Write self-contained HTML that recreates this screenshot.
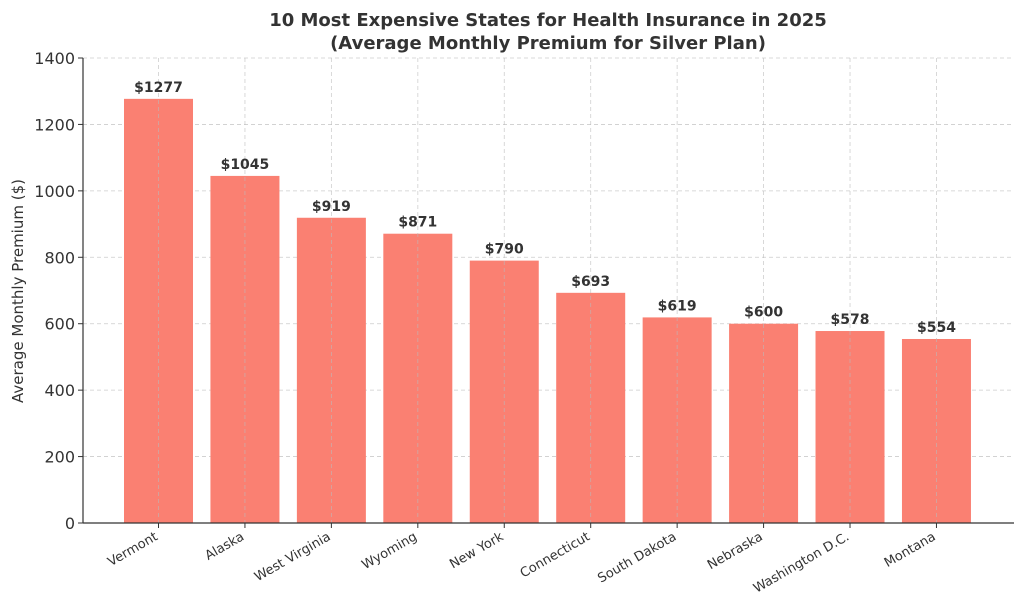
<!DOCTYPE html>
<html><head><meta charset="utf-8"><style>
body{margin:0;background:#fff;}
svg{display:block;font-family:"DejaVu Sans","Liberation Sans",sans-serif;}
</style></head><body>
<svg id="chart" width="1024" height="611">
<text x="548" y="26" text-anchor="middle" font-size="18" font-weight="bold" fill="#333">10 Most Expensive States for Health Insurance in 2025</text>
<text x="548" y="49" text-anchor="middle" font-size="18" font-weight="bold" fill="#333">(Average Monthly Premium for Silver Plan)</text>
<text transform="translate(23,291) rotate(-90)" text-anchor="middle" font-size="15" fill="#333">Average Monthly Premium ($)</text>
<g id="grid"></g><g id="bars"></g><g id="axes"></g>
</svg>
<script>
const categories=["Vermont","Alaska","West Virginia","Wyoming","New York","Connecticut","South Dakota","Nebraska","Washington D.C.","Montana"];
const values=[1277,1045,919,871,790,693,619,600,578,554];
const yTicks=[0,200,400,600,800,1000,1200,1400];
const NS="http://www.w3.org/2000/svg";
const X0=83,X1=1014,Y0=523,Y1=58,YMAX=1400;
const first=158.5,step=86.44,bw=69;
const y=v=>Y0-(v/YMAX)*(Y0-Y1);
const x=i=>first+i*step;
function mk(t,a,p){const e=document.createElementNS(NS,t);for(const k in a)e.setAttribute(k,a[k]);p.appendChild(e);return e;}
const grid=document.getElementById('grid'),bars=document.getElementById('bars'),axes=document.getElementById('axes');
yTicks.forEach(t=>{
 const l=mk('line',{x1:X0,x2:X1,y1:y(t),y2:y(t),stroke:'#ccc','stroke-dasharray':'4,3','stroke-width':0.8},grid);
 
 
 const tk=mk('line',{x1:X0-5,x2:X0,y1:y(t),y2:y(t),stroke:'#333'},axes);
 
 
 const tx=mk('text',{x:X0-8,y:y(t)+6,'text-anchor':'end','font-size':16,fill:'#333'},axes);
 tx.textContent=t;
 
 
});
categories.forEach((c,i)=>{
 const cx=x(i),v=values[i];
 const r=mk('rect',{x:cx-bw/2,y:y(v),width:bw,height:Y0-y(v),fill:'#fa8072'},bars);
 
 
 const g=mk('line',{x1:cx,x2:cx,y1:Y1,y2:Y0,stroke:'#bbb','stroke-dasharray':'4,3','stroke-width':0.8,opacity:0.7},axes);
 
 
 const lb=mk('text',{x:cx,y:y(v)-7,'text-anchor':'middle','font-size':14,'font-weight':'bold',fill:'#333'},axes);
 lb.textContent='$'+v;
 
 
 const tk=mk('line',{x1:cx,x2:cx,y1:Y0,y2:Y0+5,stroke:'#333'},axes);
 
 
 const xt=mk('text',{x:cx,y:Y0+16,'text-anchor':'end','font-size':13,fill:'#333',transform:`rotate(-30 ${cx} ${Y0+16})`},axes);
 xt.textContent=c;
 
 
});
const ax=mk('line',{x1:X0,x2:X0,y1:Y1,y2:Y0,stroke:'#333','stroke-width':1.2},axes);


const bx=mk('line',{x1:X0,x2:X1,y1:Y0,y2:Y0,stroke:'#333','stroke-width':1.2},axes);


</script>
</body></html>
